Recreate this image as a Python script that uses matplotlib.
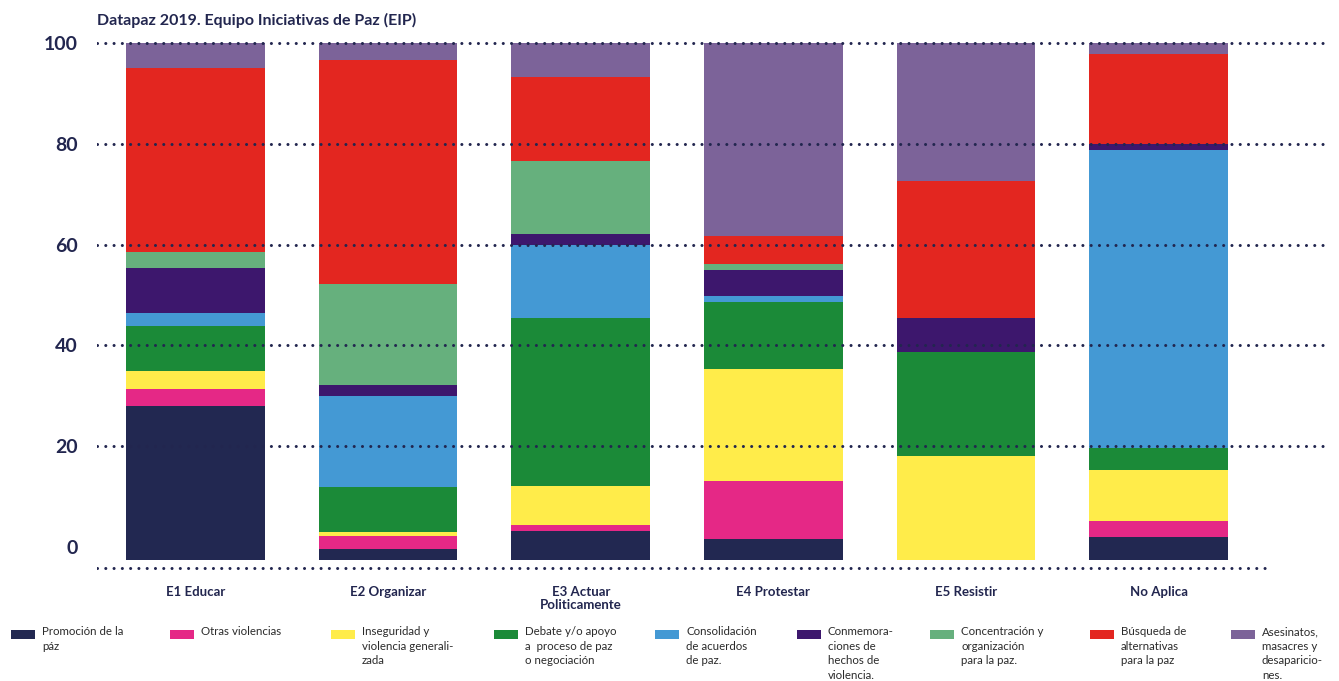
import matplotlib
matplotlib.use('Agg')
import matplotlib.pyplot as plt
from matplotlib.patches import Rectangle
import numpy as np

# categories and series (percent of each bar, bottom to top)
categories = ['E1 Educar', 'E2 Organizar', 'E3 Actuar\nPoliticamente',
              'E4 Protestar', 'E5 Resistir', 'No Aplica']

promocion      = [29.8, 2.1, 5.6, 4.1, 0.0, 4.4]
otras          = [3.3, 2.6, 1.2, 11.2, 0.0, 3.1]
inseguridad    = [3.5, 0.7, 7.5, 21.7, 20.1, 9.9]
debate         = [8.7, 8.7, 32.6, 13.0, 20.1, 4.3]
consolidacion  = [2.5, 17.6, 14.1, 1.0, 0.0, 57.6]
conmemoracion  = [8.7, 2.1, 2.1, 5.0, 6.6, 1.2]
concentracion  = [3.1, 19.5, 14.1, 1.2, 0.0, 0.0]
busqueda       = [35.6, 43.4, 16.2, 5.4, 26.6, 17.4]
asesinatos     = [4.8, 3.3, 6.6, 37.4, 26.6, 2.1]

series_labels = ['Promoción de la\npáz',
                 'Otras violencias',
                 'Inseguridad y\nviolencia generali-\nzada',
                 'Debate y/o apoyo\na  proceso de paz\no negociación',
                 'Consolidación\nde acuerdos\nde paz.',
                 'Conmemora-\nciones de\nhechos de\nviolencia.',
                 'Concentración y\norganización\npara la paz.',
                 'Búsqueda de\nalternativas\npara la paz',
                 'Asesinatos,\nmasacres y\ndesaparicio-\nnes.']

tick_labels = ['0', '20', '40', '60', '80', '100']
# grid positions as drawn in the source (spacing slightly under 20)
tick_pos = [2.6, 22.05, 41.53, 60.99, 80.46, 100.0]

colors = ['#222851', '#e52886', '#ffec4a', '#1b8a38', '#4499d4',
          '#3d176d', '#66b07d', '#e32620', '#7c6399']
NAVY = '#22264f'

plt.rcParams['font.family'] = ['Lato', 'DejaVu Sans']

W, H = 1339, 681
fig = plt.figure(figsize=(W / 100, H / 100), dpi=100)

ax_left, ax_right, ax_bottom, ax_top = 97, 1330, 575, 38
ax = fig.add_axes([ax_left / W, 1 - ax_bottom / H,
                   (ax_right - ax_left) / W, (ax_bottom - ax_top) / H])

px_per_cat = 192.6
x0 = 195.5
ax.set_xlim(-(x0 - ax_left) / px_per_cat, (ax_right - x0) / px_per_cat)
ax.set_ylim(-2.9, 100.97)

data = [promocion, otras, inseguridad, debate, consolidacion,
        conmemoracion, concentracion, busqueda, asesinatos]
x = np.arange(len(categories))
bottom = np.zeros(len(categories))
for vals, col in zip(data, colors):
    ax.bar(x, vals, bottom=bottom, width=0.72, color=col, linewidth=0, zorder=2)
    bottom += np.array(vals)

# dotted grid lines on top of bars
dots = dict(color=NAVY, linewidth=2.2, linestyle=(0, (0.01, 2.7)),
            dash_capstyle='round', zorder=3)
for p in tick_pos[1:]:
    ax.axhline(p, xmin=0, xmax=1, **dots)
ax.axhline(-1.55, xmin=0, xmax=(1272 - ax_left) / (ax_right - ax_left), **dots)

ax.set_yticks(tick_pos)
ax.set_yticklabels(tick_labels, fontsize=14, fontweight='bold', color=NAVY)
ax.tick_params(axis='y', length=0, pad=14)
ax.set_xticks(x)
ax.set_xticklabels(categories, fontsize=9.5, fontweight='bold', color=NAVY,
                   linespacing=1.1)
ax.tick_params(axis='x', length=0, pad=8)
for s in ax.spines.values():
    s.set_visible(False)

fig.text(97 / W, 1 - 20 / H, 'Datapaz 2019. Equipo Iniciativas de Paz (EIP)',
         fontsize=11.5, fontweight='bold', color=NAVY, va='center', ha='left')

# legend drawn by hand to keep the source's column layout
patch_x = [11, 170, 331, 494, 655, 797, 930, 1090, 1231]
for px, lab, col in zip(patch_x, series_labels, colors):
    fig.add_artist(Rectangle((px / W, 1 - 639 / H), 24 / W, 9 / H,
                             transform=fig.transFigure, color=col, lw=0))
    fig.text((px + 31) / W, 1 - 626 / H, lab, fontsize=8.3, fontweight='normal',
             color='#2b2b2b', va='top', ha='left', linespacing=1.4)

fig.savefig('out.png', dpi=100)
